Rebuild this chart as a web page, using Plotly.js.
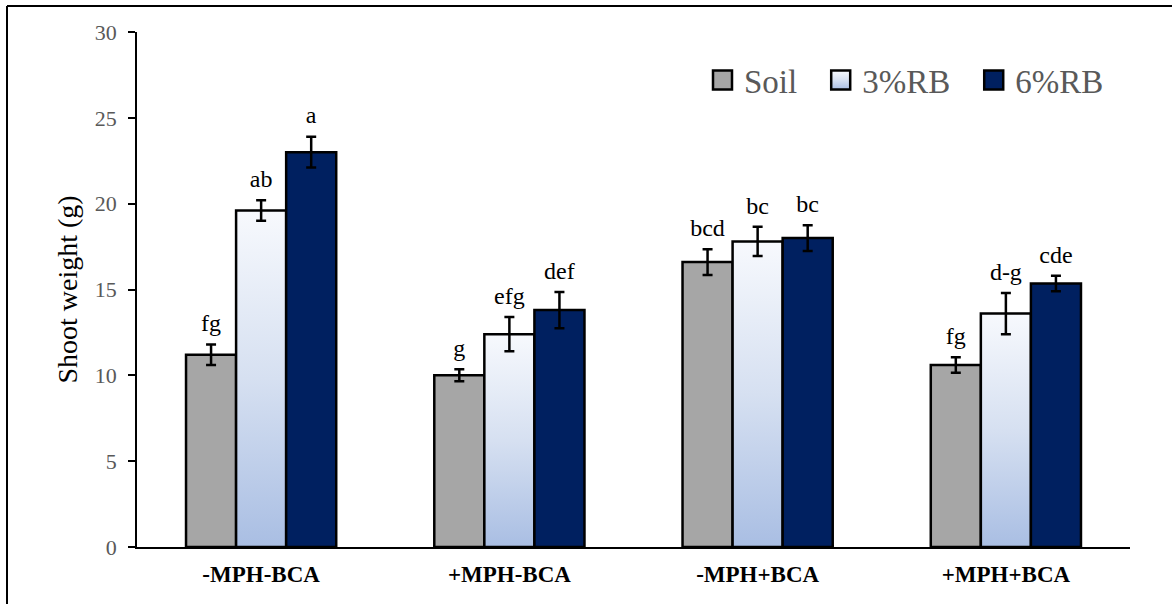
<!DOCTYPE html>
<html>
<head>
<meta charset="utf-8">
<script src="https://cdn.plot.ly/plotly-3.0.1.min.js"></script>
</head>
<body style="margin:0;background:#fff">
<div id="chart" style="width:1172px;height:604px;"></div>
<script>
const categories = ['-MPH-BCA', '+MPH-BCA', '-MPH+BCA', '+MPH+BCA'];
const seriesNames = ['Soil', '3%RB', '6%RB'];
const soil = [11.2, 10.0, 16.6, 10.6];
const rb3 = [19.6, 12.4, 17.8, 13.6];
const rb6 = [23.0, 13.8, 18.0, 15.35];
const soilErr = [0.6, 0.35, 0.75, 0.45];
const rb3Err = [0.6, 1.0, 0.85, 1.2];
const rb6Err = [0.9, 1.05, 0.75, 0.45];
const soilLetters = ['fg', 'g', 'bcd', 'fg'];
const rb3Letters = ['ab', 'efg', 'bc', 'd-g'];
const rb6Letters = ['a', 'def', 'bc', 'cde'];

const values = [soil, rb3, rb6];
const errs = [soilErr, rb3Err, rb6Err];
const letters = [soilLetters, rb3Letters, rb6Letters];
const colors = ['#a6a6a6', '#ffffff', '#002060'];
const GAP = 0.395;
const FAM = 'Times New Roman';

const traces = [];
for (let i = 0; i < 3; i++) {
  traces.push({
    type: 'bar', name: seriesNames[i], x: categories, y: values[i],
    offsetgroup: String(i),
    marker: {color: colors[i], line: {color: '#000', width: 2.5}},
    error_y: {type: 'data', array: errs[i], visible: true, color: '#000', thickness: 2.5, width: 5},
    hoverinfo: 'skip'
  });
}
for (let i = 0; i < 3; i++) {
  traces.push({
    type: 'scatter', mode: 'markers+text', x: categories,
    y: values[i].map((v, k) => v + errs[i][k]),
    marker: {size: 10, color: 'rgba(0,0,0,0)'},
    text: letters[i], textposition: 'top center',
    textfont: {family: FAM, size: 24, color: '#000'},
    offsetgroup: String(i), showlegend: false, hoverinfo: 'skip'
  });
}

const L = 137, R = 1130, T = 32, B = 547;
const W = R - L, H = B - T;
const layout = {
  width: 1172, height: 604,
  margin: {l: L, r: 1172 - R, t: T, b: 604 - B},
  paper_bgcolor: '#fff', plot_bgcolor: '#fff',
  barmode: 'group', bargap: GAP, bargroupgap: 0,
  scattermode: 'group', scattergap: GAP,
  showlegend: true,
  legend: {
    orientation: 'h', x: (684 - L) / W, y: (B - 80) / H, xanchor: 'left', yanchor: 'middle',
    font: {family: FAM, size: 33, color: '#595959'}, bgcolor: 'rgba(0,0,0,0)',
    traceorder: 'normal', itemwidth: 50
  },
  xaxis: {
    type: 'category', showline: true, linecolor: '#000', linewidth: 1.5,
    ticks: '', showgrid: false, zeroline: false, ticklabelstandoff: 6,
    tickfont: {family: FAM, size: 23, color: '#000', weight: 'bold'}
  },
  yaxis: {
    range: [0, 30], tickvals: [0, 5, 10, 15, 20, 25, 30],
    showline: true, linecolor: '#000', linewidth: 1.5,
    ticks: 'outside', ticklen: 7, tickwidth: 1.5, tickcolor: '#000',
    showgrid: false, zeroline: false, ticklabelstandoff: 7,
    tickfont: {family: FAM, size: 22, color: '#595959'},
    title: {text: 'Shoot weight (g)', font: {family: FAM, size: 28, color: '#000'}, standoff: 9}
  },
  shapes: [
    {type: 'line', xref: 'paper', yref: 'paper', x0: (7 - L) / W, x1: (1172 - L) / W, y0: (B - 6) / H, y1: (B - 6) / H, line: {color: '#000', width: 2}},
    {type: 'line', xref: 'paper', yref: 'paper', x0: (7 - L) / W, x1: (7 - L) / W, y0: (B - 6) / H, y1: (B - 610) / H, line: {color: '#000', width: 2}}
  ]
};

Plotly.newPlot('chart', traces, layout, {displayModeBar: false}).then(function (gd) {
  const svg = gd.querySelector('svg.main-svg');
  const ns = 'http://www.w3.org/2000/svg';
  const defs = svg.querySelector('defs');
  const grad = document.createElementNS(ns, 'linearGradient');
  grad.setAttribute('id', 'rbgrad');
  grad.setAttribute('x1', '0'); grad.setAttribute('y1', '0');
  grad.setAttribute('x2', '0'); grad.setAttribute('y2', '1');
  [['0', '#f7f9fd'], ['0.5', '#d6e0f1'], ['1', '#a9bee3']].forEach(function (s) {
    const st = document.createElementNS(ns, 'stop');
    st.setAttribute('offset', s[0]); st.setAttribute('stop-color', s[1]);
    grad.appendChild(st);
  });
  defs.appendChild(grad);
  const barTraces = gd.querySelectorAll('.barlayer .trace');
  if (barTraces[1]) {
    barTraces[1].querySelectorAll('path').forEach(function (p) { p.style.fill = 'url(#rbgrad)'; });
  }
  // larger legend swatches, placed just left of their label
  const half = 9.5, gapToText = 12;
  gd.querySelectorAll('.legend .traces').forEach(function (item, idx) {
    const txt = item.querySelector('text.legendtext');
    const tx = txt ? parseFloat(txt.getAttribute('x')) || 60 : 60;
    item.querySelectorAll('.legendpoints path').forEach(function (p) {
      p.setAttribute('d', 'M' + half + ',' + half + 'H-' + half + 'V-' + half + 'H' + half + 'Z');
      p.setAttribute('transform', 'translate(' + (tx - gapToText - half) + ',0)');
      p.style.strokeWidth = '2.5px';
      if (idx === 1) p.style.fill = 'url(#rbgrad)';
    });
  });
});
</script>
</body>
</html>
